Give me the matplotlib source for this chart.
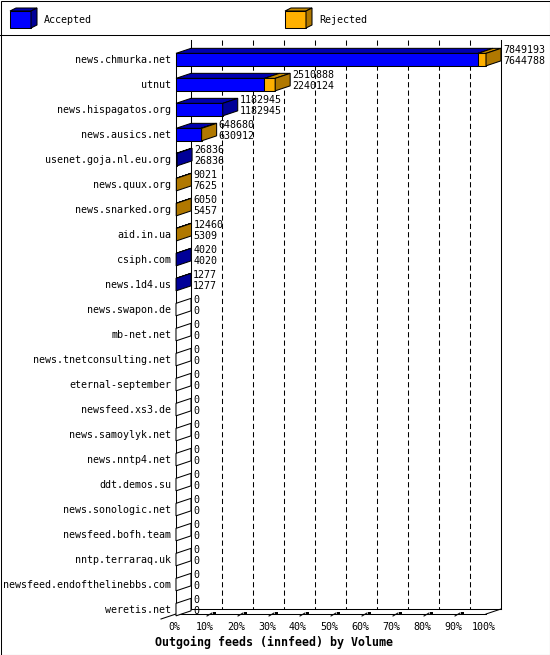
import matplotlib
matplotlib.use('Agg')
import matplotlib.pyplot as plt
from matplotlib.patches import Polygon, Rectangle

hosts = ['news.chmurka.net', 'utnut', 'news.hispagatos.org', 'news.ausics.net',
         'usenet.goja.nl.eu.org', 'news.quux.org', 'news.snarked.org', 'aid.in.ua',
         'csiph.com', 'news.1d4.us', 'news.swapon.de', 'mb-net.net',
         'news.tnetconsulting.net', 'eternal-september', 'newsfeed.xs3.de',
         'news.samoylyk.net', 'news.nntp4.net', 'ddt.demos.su', 'news.sonologic.net',
         'newsfeed.bofh.team', 'nntp.terraraq.uk', 'newsfeed.endofthelinebbs.com',
         'weretis.net']
offered = [7849193, 2510888, 1182945, 648680, 26836, 9021, 6050, 12460, 4020, 1277,
           0, 0, 0, 0, 0, 0, 0, 0, 0, 0, 0, 0, 0]
accepted = [7644788, 2240124, 1182945, 630912, 26836, 7625, 5457, 5309, 4020, 1277,
            0, 0, 0, 0, 0, 0, 0, 0, 0, 0, 0, 0, 0]
ticks = [0, 10, 20, 30, 40, 50, 60, 70, 80, 90, 100]

blue = ('#0000ff', '#0000b0', '#000098')     # front, top, side
orange = ('#ffb000', '#c88c00', '#b07800')
font = 'DejaVu Sans Mono'
lw = 0.75

W, H = 550, 655
fig = plt.figure(figsize=(W / 100, H / 100), dpi=100)

# pixel frame for border and legend
frame = fig.add_axes([0, 0, 1, 1])
frame.set_xlim(0, W)
frame.set_ylim(H, 0)
frame.axis('off')

# chart axes: x in percent of the largest feed, y in rows
ax = fig.add_axes([0, 0, 1, 1])
x0, xs = 176, 3.1
y0, ys = 59.6, 25.0
ax.set_xlim(-x0 / xs, (W - x0) / xs)
ax.set_ylim((H - y0) / ys, -y0 / ys)
ax.axis('off')
ax.patch.set_visible(False)

DX, DY = 15 / xs, -5 / ys   # depth offset
h = 0.25
wall_top = (40 - y0) / ys
floor_f = (614 - y0) / ys
floor_b = floor_f + DY

# back wall
for t in ticks[1:-1]:
    ax.plot([t + DX, t + DX], [wall_top, floor_b], color='black', lw=lw,
            linestyle=(0, (5, 3)), zorder=1)
for t in (0, 100):
    ax.plot([t + DX, t + DX], [wall_top, floor_b], color='black', lw=lw, zorder=1)

# floor
ax.plot([DX, 100 + DX], [floor_b, floor_b], color='black', lw=lw, zorder=1)
ax.plot([0, 100], [floor_f, floor_f], color='black', lw=lw, zorder=1)
ax.plot([100, 100 + DX], [floor_f, floor_b], color='black', lw=lw, zorder=1)
ax.plot([DX, -DX], [floor_b, floor_f - DY], color='black', lw=lw, zorder=1)
ax.plot([0, 0], [-h, floor_f], color='black', lw=lw, zorder=1)
for t in ticks[1:-1]:
    ax.plot([t, t + 5 / xs], [floor_f + 2 / ys, floor_f - 1 / ys], color='black', lw=lw, zorder=3)
    ax.add_patch(Rectangle((t + 6 / xs, floor_f - 2.5 / ys), 3 / xs, 2.5 / ys,
                           color='black', lw=0, zorder=3))

# bars
top = max(offered)
for i, host in enumerate(hosts):
    a = accepted[i] / top * 100
    t = offered[i] / top * 100
    segs = [(0, a, blue), (a, t, orange)]
    last = None
    for l, r, c in segs:
        if r - l <= 0:
            continue
        last = c
        ax.barh(i, r - l, left=l, height=2 * h, color=c[0], edgecolor='black',
                linewidth=lw, zorder=2)
        ax.add_patch(Polygon([(l, i - h), (r, i - h), (r + DX, i - h + DY), (l + DX, i - h + DY)],
                             closed=True, facecolor=c[1], edgecolor='black', lw=lw, zorder=2))
    side = last[2] if last else 'white'
    ax.add_patch(Polygon([(t, i - h), (t + DX, i - h + DY), (t + DX, i + h + DY), (t, i + h)],
                         closed=True, facecolor=side, edgecolor='black', lw=lw, zorder=2))
    ax.text(-5 / xs, i + 0.02, host, ha='right', va='center', family=font, fontsize=7.2)
    ax.text(t + DX + 2 / xs, i - 0.38, str(offered[i]), ha='left', va='center',
            family=font, fontsize=7.2, zorder=4)
    ax.text(t + DX + 2 / xs, i + 0.06, str(accepted[i]), ha='left', va='center',
            family=font, fontsize=7.2, zorder=4)

for t in ticks:
    ax.text(t - 2 / xs, (627 - y0) / ys, f'{t}%', ha='center', va='center',
            family=font, fontsize=7.2)

frame.text(155, 642, 'Outgoing feeds (innfeed) by Volume', ha='left', va='center',
           family=font, fontsize=8.4, fontweight='bold')

# legend
for lx, c, name in [(10, blue, 'Accepted'), (285, orange, 'Rejected')]:
    fx0, fx1, fy0, fy1, ox, oy = lx, lx + 21, 11, 28, 6, -3
    frame.add_patch(Polygon([(fx0, fy0), (fx1, fy0), (fx1, fy1), (fx0, fy1)], closed=True,
                            facecolor=c[0], edgecolor='black', lw=lw))
    frame.add_patch(Polygon([(fx0, fy0), (fx1, fy0), (fx1 + ox, fy0 + oy), (fx0 + ox, fy0 + oy)],
                            closed=True, facecolor=c[1], edgecolor='black', lw=lw))
    frame.add_patch(Polygon([(fx1, fy0), (fx1 + ox, fy0 + oy), (fx1 + ox, fy1 + oy), (fx1, fy1)],
                            closed=True, facecolor=c[2], edgecolor='black', lw=lw))
    frame.text(lx + 34, 20, name, ha='left', va='center', family=font, fontsize=7.2)

frame.plot([0, W], [34.5, 34.5], color='black', lw=lw)
frame.add_patch(Rectangle((0.5, 0.5), W - 1, H - 1, fill=False, edgecolor='black', lw=lw))

fig.savefig('out.png', dpi=100)
